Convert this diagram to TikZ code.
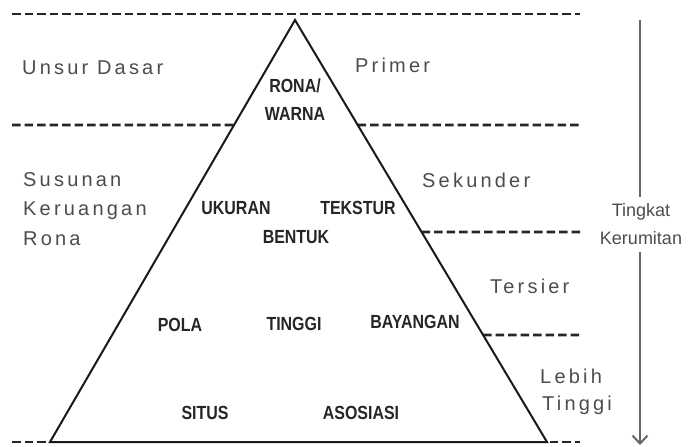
\documentclass[tikz,border=0pt]{standalone}
\usepackage{fontspec}
\usepackage{graphicx}
\setmainfont{Liberation Sans}
\newfontfamily\lblfont[LetterSpace=16]{Liberation Sans}
\usetikzlibrary{arrows.meta,calc}
\tikzset{
  x=1pt, y=-1pt,
  tri/.style={line width=2pt, black!90, line join=miter},
  dline/.style={line width=2.8pt, black!85, dash pattern=on 8.5pt off 4pt},
  plain/.style={anchor=base west, inner sep=0pt, text=black!70, font=\fontsize{20}{22}\lblfont},
  boldlbl/.style={anchor=base, inner sep=0pt, text=black!85},
  tkstyle/.style={align=center, inner sep=0pt, text=black!70, font=\fontsize{18}{28}\selectfont},
  arr/.style={line width=2.2pt, black!60}
}
\newcommand{\bl}[1]{\scalebox{0.84}[1]{\fontsize{19}{20}\selectfont\bfseries #1}}
\begin{document}
\begin{tikzpicture}
\useasboundingbox (0,0) rectangle (689,447);
% triangle corners
\coordinate (apex) at (295,20);
\coordinate (bleft) at (50,442);
\coordinate (bright) at (547,442);
% dashed level lines
\coordinate (t1) at (12,14);
\coordinate (t2) at (580,14);
\coordinate (l1) at (12,125);
\coordinate (l2) at ($(apex)!105/422!(bleft)$);
\coordinate (r1) at ($(apex)!105/422!(bright)$);
\coordinate (r2) at (580,125);
\coordinate (s1) at ($(apex)!212/422!(bright)$);
\coordinate (s2) at (580,232);
\coordinate (u1) at ($(apex)!315/422!(bright)$);
\coordinate (u2) at (580,335);
\coordinate (b1) at (12,442);
\coordinate (b2) at (580,442);
\draw[dline] (t1) -- (t2);
\draw[dline] (l1) -- (l2);
\draw[dline] (r1) -- (r2);
\draw[dline] (s1) -- (s2);
\draw[dline] (u1) -- (u2);
\draw[dline] (b1) -- (b2);
\draw[tri] (apex) -- (bleft) -- (bright) -- cycle;
\draw[line width=2.8pt, black!90] (bleft) -- (bright);
% left labels
\node[plain] (unsur) at (22,74) {Unsur Dasar};
\node[plain] (susunan) at (23,186) {Susunan};
\node[plain] (keruangan) at (23,215) {Keruangan};
\node[plain] (rona) at (23,245) {Rona};
% right labels
\node[plain] (primer) at (355,72) {Primer};
\node[plain] (sekunder) at (422,187) {Sekunder};
\node[plain] (tersier) at (490,293) {Tersier};
\node[plain] (lebih) at (540,383) {Lebih};
\node[plain] (tinggi2) at (542,410) {Tinggi};
% pyramid labels
\node[boldlbl] (ronaw) at (295,92) {\bl{RONA/}};
\node[boldlbl] (warna) at (295,120) {\bl{WARNA}};
\node[boldlbl] (ukuran) at (236,214) {\bl{UKURAN}};
\node[boldlbl] (tekstur) at (358,214) {\bl{TEKSTUR}};
\node[boldlbl] (bentuk) at (296,243) {\bl{BENTUK}};
\node[boldlbl] (pola) at (180,331) {\bl{POLA}};
\node[boldlbl] (tinggi) at (294,330) {\bl{TINGGI}};
\node[boldlbl] (bayangan) at (415,328) {\bl{BAYANGAN}};
\node[boldlbl] (situs) at (205,419) {\bl{SITUS}};
\node[boldlbl] (asosiasi) at (361,419) {\bl{ASOSIASI}};
% complexity arrow
\node[tkstyle] (tk) at (641,224) {Tingkat\\Kerumitan};
\coordinate (atop) at (640,20);
\coordinate (abot) at (640,445);
\draw[arr] (atop) -- ([yshift=6pt]tk.north -| atop);
\draw[arr, -{Straight Barb[length=8pt,width=15pt,line width=2pt]}] ([yshift=-7pt]tk.south -| atop) -- (abot);
\end{tikzpicture}
\end{document}
